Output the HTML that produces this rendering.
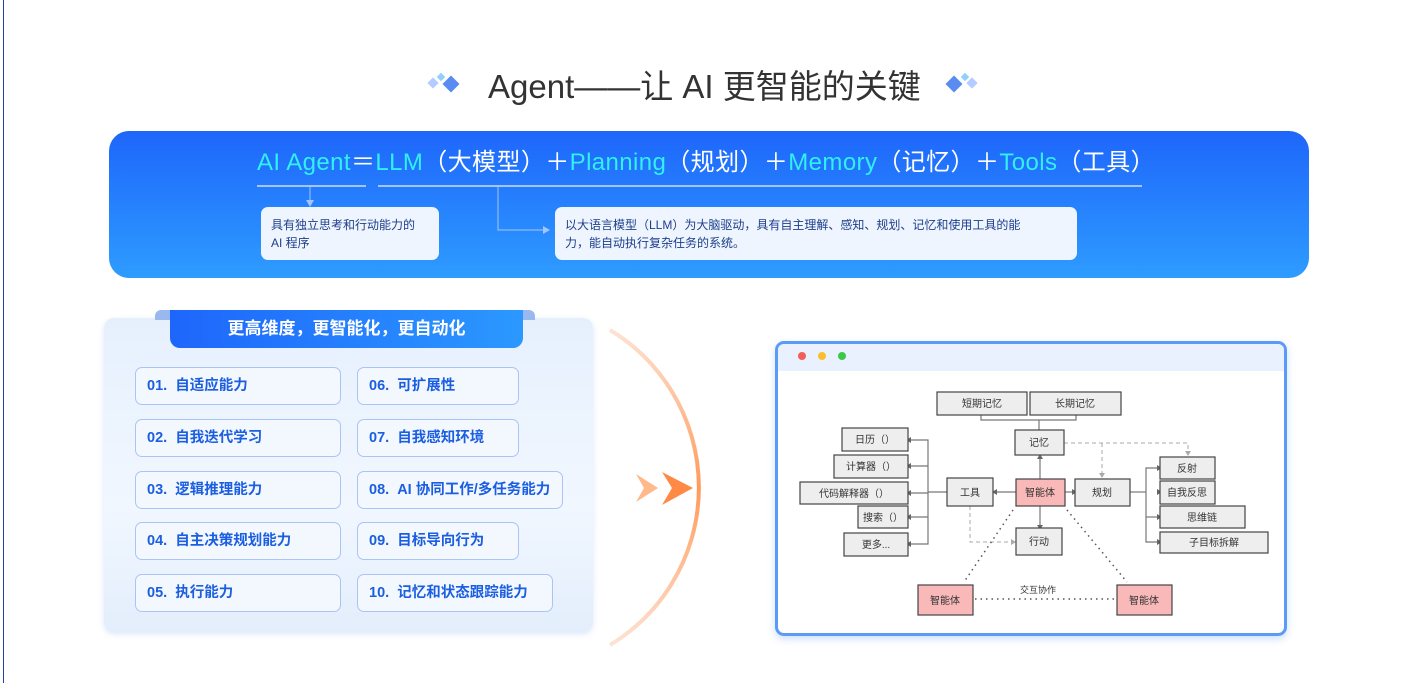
<!DOCTYPE html>
<html><head><meta charset="utf-8"><style>
*{margin:0;padding:0;box-sizing:border-box}
body{width:1406px;height:683px;background:#fff;position:relative;overflow:hidden;font-family:"Liberation Sans","Noto Sans CJK SC",sans-serif}
.a{position:absolute}
.it{position:absolute;height:38px;border:1px solid #a9c4f5;border-radius:7px;background:#f3f8ff;color:#1b5ee0;font-size:14.5px;font-weight:bold;line-height:36px;padding-left:11px}
</style></head><body>
<div class="a" style="left:3px;top:0;width:1px;height:683px;background:#2142a0"></div>
<!-- title -->
<svg class="a" style="left:425px;top:70px" width="44" height="30"><rect x="4" y="9" width="8" height="8" fill="#b6cbff" transform="rotate(45 8 13)"/><rect x="13" y="4" width="6" height="6" fill="#8fd0ff" transform="rotate(45 16 7)"/><rect x="20" y="8" width="12" height="12" fill="#5a8bf0" transform="rotate(45 26 14)"/></svg>
<svg class="a" style="left:944px;top:70px" width="44" height="30"><rect x="4" y="8" width="12" height="12" fill="#5a8bf0" transform="rotate(45 10 14)"/><rect x="18" y="4" width="6" height="6" fill="#8fd0ff" transform="rotate(45 21 7)"/><rect x="24" y="9" width="8" height="8" fill="#b6cbff" transform="rotate(45 28 13)"/></svg>
<div class="a" style="left:488px;top:60px;font-size:33px;color:#333;white-space:nowrap">Agent——让 AI 更智能的关键</div>
<!-- banner -->
<div class="a" style="left:109px;top:131px;width:1200px;height:147px;border-radius:20px;background:linear-gradient(180deg,#1e66fb,#2e9cff)"></div>
<div class="a" style="left:257px;top:142px;font-size:24px;letter-spacing:0.4px;color:#30f0f0;white-space:nowrap">AI Agent<span style="color:#fff">＝</span>LLM<span style="color:#fff">（大模型）＋</span>Planning<span style="color:#fff">（规划）＋</span>Memory<span style="color:#fff">（记忆）＋</span>Tools<span style="color:#fff">（工具）</span></div>
<svg class="a" style="left:0;top:0" width="1406" height="683">
<line x1="257" y1="186" x2="366" y2="186" stroke="#a5c4fb" stroke-width="2"/>
<line x1="378" y1="186" x2="1142" y2="186" stroke="#a5c4fb" stroke-width="2"/>
<line x1="310" y1="187" x2="310" y2="202" stroke="#a5c4fb"/><polygon points="306,200 314,200 310,207" fill="#a5c4fb"/>
<polyline points="498,187 498,230 544,230" fill="none" stroke="#a5c4fb"/><polygon points="543,226 550,230 543,234" fill="#a5c4fb"/>
</svg>
<div class="a" style="left:261px;top:207px;width:178px;height:53px;border-radius:7px;background:#eef5ff;color:#1d3e8a;font-size:12px;line-height:18px;padding:9px 0 0 10px">具有独立思考和行动能力的<br>AI 程序</div>
<div class="a" style="left:555px;top:207px;width:522px;height:53px;border-radius:7px;background:#eef5ff;color:#1d3e8a;font-size:12px;line-height:18px;padding:9px 0 0 10px">以大语言模型（LLM）为大脑驱动，具有自主理解、感知、规划、记忆和使用工具的能<br>力，能自动执行复杂任务的系统。</div>
<!-- left panel -->
<div class="a" style="left:104px;top:318px;width:489px;height:314px;border-radius:10px;background:linear-gradient(180deg,#e6f0fd,#f1f7ff 60%,#e3eefc);box-shadow:0 2px 6px rgba(120,160,230,.25)"></div>
<div class="a" style="left:155px;top:310px;width:380px;height:10px;border-radius:6px 6px 0 0;background:#9ab8f0"></div>
<div class="a" style="left:170px;top:310px;width:353px;height:38px;border-radius:0 0 10px 10px;background:linear-gradient(90deg,#1e66fb,#2b98ff);color:#fff;font-size:17px;font-weight:bold;text-align:center;line-height:38px">更高维度，更智能化，更自动化</div>
<div class="it" style="left:135px;top:367px;width:206px">01.&nbsp;&nbsp;自适应能力</div>
<div class="it" style="left:135px;top:419px;width:206px">02.&nbsp;&nbsp;自我迭代学习</div>
<div class="it" style="left:135px;top:471px;width:206px">03.&nbsp;&nbsp;逻辑推理能力</div>
<div class="it" style="left:135px;top:522px;width:206px">04.&nbsp;&nbsp;自主决策规划能力</div>
<div class="it" style="left:135px;top:574px;width:206px">05.&nbsp;&nbsp;执行能力</div>
<div class="it" style="left:357px;top:367px;width:162px">06.&nbsp;&nbsp;可扩展性</div>
<div class="it" style="left:357px;top:419px;width:162px">07.&nbsp;&nbsp;自我感知环境</div>
<div class="it" style="left:357px;top:471px;width:206px">08.&nbsp;&nbsp;AI 协同工作/多任务能力</div>
<div class="it" style="left:357px;top:522px;width:162px">09.&nbsp;&nbsp;目标导向行为</div>
<div class="it" style="left:357px;top:574px;width:196px">10.&nbsp;&nbsp;记忆和状态跟踪能力</div>
<!-- arc & chevrons -->
<svg class="a" style="left:0;top:0" width="1406" height="683">
<defs><linearGradient id="g" x1="0" y1="0" x2="0" y2="1"><stop offset="0" stop-color="#fde3d4"/><stop offset=".5" stop-color="#ff9a5a"/><stop offset="1" stop-color="#fde3d4"/></linearGradient></defs>
<path d="M610,330 A184,184 0 0 1 610,645" fill="none" stroke="url(#g)" stroke-width="4"/>
<polygon points="636,474 658,488 636,502 644,488" fill="#ffb98a"/>
<polygon points="662,472 693,488 662,505 672,488" fill="#ff8a45"/>
</svg>
<!-- window -->
<div class="a" style="left:775px;top:341px;width:512px;height:295px;border:3px solid #5b9bf7;border-radius:9px;background:#fff;overflow:hidden;box-shadow:0 3px 8px rgba(90,150,240,.3)">
<div style="height:27px;background:#e8f1fd"></div></div>
<svg class="a" style="left:0;top:0" width="1406" height="683" font-family="Liberation Sans,Noto Sans CJK SC,sans-serif" font-size="10" fill="#333">
<circle cx="802" cy="356" r="4" fill="#f25f58"/><circle cx="822" cy="356" r="4" fill="#fbbe2e"/><circle cx="842" cy="356" r="4" fill="#3bc849"/>
<g stroke="#777" fill="none" stroke-width="1.2">
<polyline points="981,410 981,420 1076,420 1076,410"/><line x1="1039" y1="420" x2="1039" y2="430"/>
<line x1="1040" y1="479" x2="1040" y2="458"/>
<line x1="1016" y1="492" x2="996" y2="492"/>
<line x1="1065" y1="492" x2="1073" y2="492"/>
<line x1="1040" y1="506" x2="1040" y2="526"/>
<line x1="947" y1="492" x2="928" y2="492"/><polyline points="910,440 928,440 928,544 910,544"/>
<line x1="928" y1="466" x2="910" y2="466"/><line x1="928" y1="493" x2="910" y2="493"/><line x1="928" y1="517" x2="910" y2="517"/>
<line x1="1130" y1="492" x2="1146" y2="492"/><polyline points="1158,468 1146,468 1146,542 1158,542"/>
<line x1="1146" y1="517" x2="1158" y2="517"/>
</g>
<g fill="#666">
<polygon points="978,411 984,411 981,406"/><polygon points="1073,411 1079,411 1076,406"/>
<polygon points="1037,459 1043,459 1040,454"/><polygon points="997,489 997,495 992,492"/>
<polygon points="1072,489 1072,495 1077,492"/><polygon points="1037,525 1043,525 1040,530"/>
<polygon points="911,437 911,443 906,440"/><polygon points="911,463 911,469 906,466"/><polygon points="911,490 911,496 906,493"/><polygon points="911,514 911,520 906,517"/><polygon points="911,541 911,547 906,544"/>
<polygon points="1157,465 1157,471 1162,468"/><polygon points="1157,489 1157,495 1162,492"/><polygon points="1157,514 1157,520 1162,517"/><polygon points="1157,539 1157,545 1162,542"/>
</g>
<g stroke="#aaa" fill="none" stroke-dasharray="4,3"><polyline points="1064,443 1188,443 1188,452"/><line x1="1102" y1="443" x2="1102" y2="474"/><polyline points="970,506 970,542 1012,542"/></g>
<g fill="#aaa"><polygon points="1185,451 1191,451 1188,456"/><polygon points="1099,473 1105,473 1102,478"/><polygon points="1011,539 1011,545 1016,542"/></g>
<g stroke="#555" stroke-dasharray="1.5,4" stroke-width="1.5"><line x1="1013" y1="510" x2="964" y2="582"/><line x1="1067" y1="510" x2="1127" y2="582"/><line x1="975" y1="599" x2="1115" y2="599"/></g>
<g stroke="#444" stroke-width="1.2" fill="#eee">
<rect x="937" y="392" width="90" height="23"/><rect x="1030" y="392" width="91" height="23"/>
<rect x="1015" y="430" width="49" height="25"/>
<rect x="842" y="428" width="66" height="23"/><rect x="834" y="455" width="74" height="23"/><rect x="800" y="482" width="108" height="22"/><rect x="858" y="506" width="50" height="22"/><rect x="844" y="533" width="64" height="23"/>
<rect x="947" y="478" width="46" height="28"/><rect x="1075" y="479" width="55" height="27"/><rect x="1016" y="528" width="46" height="27"/>
<rect x="1160" y="457" width="55" height="22"/><rect x="1160" y="481" width="55" height="23"/><rect x="1160" y="506" width="85" height="22"/><rect x="1160" y="532" width="108" height="21"/>
<rect x="1016" y="479" width="49" height="27" fill="#f9b9b9"/><rect x="918" y="585" width="55" height="30" fill="#f9b9b9"/><rect x="1117" y="585" width="55" height="30" fill="#f9b9b9"/>
</g>
<g text-anchor="middle">
<text x="982" y="407">短期记忆</text><text x="1075" y="407">长期记忆</text><text x="1039" y="446">记忆</text>
<text x="875" y="443">日历（）</text><text x="871" y="470">计算器（）</text><text x="854" y="497">代码解释器（）</text><text x="883" y="521">搜索（）</text><text x="876" y="548">更多...</text>
<text x="970" y="496">工具</text><text x="1040" y="496">智能体</text><text x="1102" y="496">规划</text><text x="1039" y="545">行动</text>
<text x="1187" y="472">反射</text><text x="1187" y="496">自我反思</text><text x="1202" y="521">思维链</text><text x="1214" y="546">子目标拆解</text>
<text x="945" y="604">智能体</text><text x="1144" y="604">智能体</text><text x="1038" y="593" font-size="9">交互协作</text>
</g>
</svg>
</body></html>
